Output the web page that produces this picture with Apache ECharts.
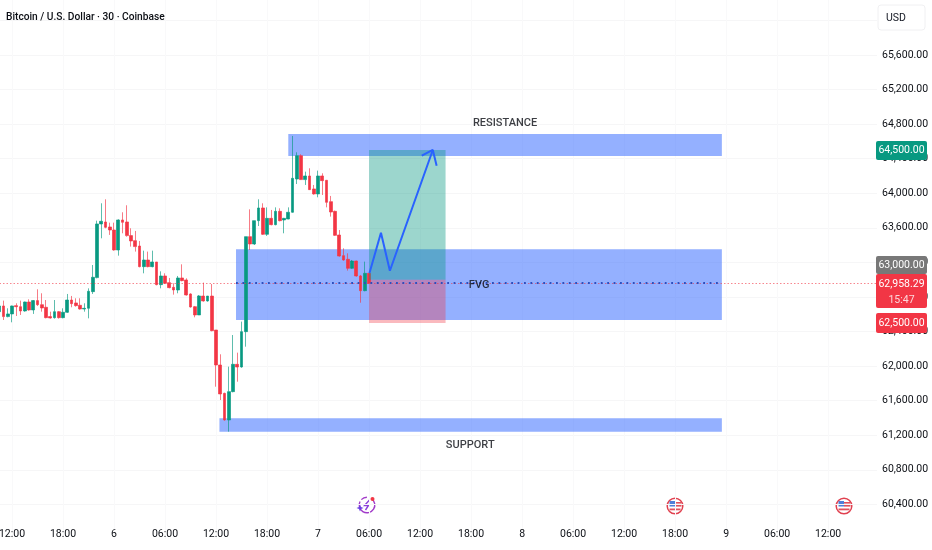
<!DOCTYPE html>
<html><head><meta charset="utf-8">
<style>html,body{margin:0;padding:0;background:#fff}#c{width:932px;height:550px}</style>
<script src="https://cdn.jsdelivr.net/npm/echarts@6/dist/echarts.min.js"></script>
</head><body><div id="c"></div>
<script>
const chartTitle = 'Bitcoin / U.S. Dollar · 30 · Coinbase';
const timeTicks = ['12:00','18:00','6','06:00','12:00','18:00','7','06:00','12:00','18:00','8','06:00','12:00','18:00','9','06:00','12:00'];
const priceTicks = [60400,60800,61200,61600,62000,62400,62800,63200,63600,64000,64400,64800,65200,65600];
const firstCandle = -3; // candles counted in half hours from the first 12:00 tick
const opens = [62630,62696,62573,62604,62700,62688,62638,62742,62650,62758,62711,62681,62573,62561,62630,62561,62623,62765,62731,62704,62661,62669,62862,63024,63645,63668,63610,63575,63344,63691,63668,63510,63452,63390,63151,63228,63151,63205,62943,63043,62966,62912,62881,63020,62997,62835,62688,62592,62811,62754,62811,62418,62013,61685,61377,61705,62021,61990,62399,63498,63413,63683,63830,63525,63710,63637,63791,63691,63702,63780,64165,64435,64158,64200,64050,63992,64200,64150,63903,63791,63517,63278,63236,63132,63216,63043,62873,63074];
const closes = [62696,62573,62604,62696,62688,62638,62742,62650,62758,62711,62673,62561,62557,62630,62561,62623,62765,62723,62700,62661,62669,62866,63028,63645,63676,63606,63575,63344,63691,63664,63510,63448,63383,63151,63228,63151,63205,62943,63043,62958,62908,62881,63020,62989,62823,62684,62592,62812,62754,62811,62410,62013,61678,61377,61705,62021,61990,62399,63498,63413,63683,63830,63525,63710,63637,63791,63683,63710,63780,64173,64435,64158,64200,64042,63992,64200,64146,63895,63783,63513,63274,63228,63132,63216,63043,62873,63074,62958];
const lows = [62611,62534,62565,62507,62580,62592,62630,62642,62604,62696,62630,62553,62550,62550,62550,62553,62615,62681,62688,62654,62630,62553,62835,63016,63479,63595,63518,63336,63278,63537,63498,63383,63325,63143,63074,63143,63143,62935,62900,62951,62900,62827,62843,62981,62816,62677,62565,62592,62746,62746,62403,61762,61608,61369,61242,61697,61820,61982,62225,63344,63402,63621,63517,63506,63629,63629,63675,63537,63699,63775,64107,64154,64096,64038,63984,63953,63980,63837,63730,63506,63267,63220,63105,63124,63035,62734,62866,62950];
const highs = [62727,62758,62669,62700,62727,62758,62746,62773,62765,62889,62843,62765,62630,62765,62638,62669,62835,62812,62785,62785,62727,62900,63170,63683,63884,63930,63660,63660,63699,63780,63861,63595,63564,63448,63336,63325,63336,63205,63097,63074,63020,62958,63043,63178,63016,62843,62696,62823,62966,62811,62950,62418,62137,61693,61994,62360,62156,62515,63498,63814,63683,63930,63884,63837,63807,63837,63826,63715,63837,64663,64474,64451,64250,64289,64096,64262,64231,64154,63969,63799,63575,63363,63305,63228,63220,63055,63209,63074];
const zones = [[65,167,64431,64686],[52.7,167,62534,63352],[48.8,167,61242,61397]];
const targetBox = [84,102,63000,64500];
const stopBox = [84,102,62500,63000];
const fvgMid = [[52.7,62962],[167,62962]];
const arrowPath = [[84.1,63078],[86.8,63544],[88.9,63104],[99,64501]];
const arrowHead = [[96.4,64435],[99,64501],[99.9,64319]];
const zoneLabels = [[116,64810,'RESISTANCE'],[109.9,62935,'FVG'],[107.8,61090,'SUPPORT']];
const lastPrice = 62958.29;
const FONT = 'Roboto';

const candles = opens.map((o,i)=>[firstCandle+i,o,closes[i],lows[i],highs[i]]);
const rectSeries = (data,color,z)=>({type:'custom',coordinateSystem:'cartesian2d',z,silent:true,
  encode:{x:[0,1],y:[2,3]},data,
  renderItem:(p,api)=>{const a=api.coord([api.value(0),api.value(3)]),b=api.coord([api.value(1),api.value(2)]);
    return {type:'rect',shape:{x:a[0],y:a[1],width:b[0]-a[0],height:b[1]-a[1]},style:{fill:color}};}});
const lineS=(data,z,style)=>({type:'line',data,z,silent:true,showSymbol:false,symbol:'none',lineStyle:style,animation:false});
const tag=(y,h,fill,lines)=>[
  {type:'rect',z:50,shape:{x:876,y,width:51,height:h,r:2},style:{fill}},
  ...lines.map((t,i)=>({type:'text',z:51,x:901.5,y:y+(i===0?(lines.length>1?10:h/2):26),
    style:{text:t,fill:i?'rgba(255,255,255,.8)':'#fff',font:'10.5px "'+FONT+'"',align:'center',verticalAlign:'middle'}}))];
const flag=(cx,cy)=>({type:'group',x:cx,y:cy,z:40,children:[
  {type:'circle',shape:{cx:0,cy:0,r:7.8},style:{fill:'#fff',stroke:'#e0404f',lineWidth:1.5}},
  {type:'rect',shape:{x:-5.5,y:-5,width:5.5,height:5.5},style:{fill:'#4f7fd8'}},
  {type:'rect',shape:{x:0,y:-4,width:6,height:1.6},style:{fill:'#e0505c'}},
  {type:'rect',shape:{x:0,y:-1,width:6.5,height:1.6},style:{fill:'#e0505c'}},
  {type:'rect',shape:{x:-5.5,y:2.5,width:11,height:1.8},style:{fill:'#e0505c'}}]});
const flash={type:'group',x:367,y:505,z:40,children:[
  {type:'arc',shape:{cx:0,cy:0,r:7.8,startAngle:-1.0,endAngle:3.6},style:{stroke:'#a23bc9',fill:'none',lineWidth:1.4}},
  {type:'arc',shape:{cx:0,cy:0,r:7.8,startAngle:3.9,endAngle:4.7},style:{stroke:'#a23bc9',fill:'none',lineWidth:1.4}},
  {type:'polyline',shape:{points:[[2.5,-5],[-2.5,0.5],[1.5,0.5],[-1.5,5]]},style:{stroke:'#8b3fd9',fill:'none',lineWidth:1.4}},
  {type:'circle',shape:{cx:5.5,cy:-6,r:2},style:{fill:'#f23645'}},
  {type:'polygon',shape:{points:[[-7,-0.5],[-6,2],[-3.5,3],[-6,4],[-7,6.5],[-8,4],[-10.5,3],[-8,2]]},style:{fill:'#6a3fe0'}}]};

const chart=echarts.init(document.getElementById('c'),null,{renderer:'canvas'});
chart.setOption({
  animation:false,backgroundColor:'#fff',
  title:{text:chartTitle,left:6,top:12,padding:0,textStyle:{fontFamily:FONT,fontSize:10.2,fontWeight:500,color:'#0b0e14'}},
  grid:{left:-39,top:0,width:916,height:539,containLabel:false,outerBoundsMode:'none'},
  xAxis:{type:'value',min:-12,max:203.5,interval:12,offset:-18,
    axisLine:{show:false},axisTick:{show:false},
    splitLine:{show:true,showMinLine:false,showMaxLine:false,lineStyle:{color:'#f9f9fa',width:1}},
    axisLabel:{margin:8,fontFamily:FONT,fontSize:10.5,color:'#0b0e14',showMinLabel:false,showMaxLabel:false,
      formatter:v=>{const k=v/12;return Number.isInteger(k)&&timeTicks[k]!==undefined?timeTicks[k]:'';}}},
  yAxis:{type:'value',position:'right',min:60000,max:66236,interval:400,scale:true,
    axisLine:{show:false},axisTick:{show:false},
    splitLine:{show:true,showMinLine:false,showMaxLine:false,lineStyle:{color:'#f6f6f7',width:1}},
    axisLabel:{margin:5,align:'left',fontFamily:FONT,fontSize:10.5,color:'#0b0e14',showMinLabel:false,showMaxLabel:false,
      formatter:v=>priceTicks.includes(v)?v.toLocaleString('en-US',{minimumFractionDigits:2}):''}},
  series:[
    rectSeries(zones,'rgba(41,98,255,0.5)',1),
    {type:'candlestick',z:3,silent:true,barWidth:3.2,data:candles,encode:{x:0,y:[1,2,3,4]},
      itemStyle:{color:'#089981',color0:'#f23645',borderColor:'rgba(8,153,129,.65)',borderColor0:'rgba(242,54,69,.65)',borderWidth:1},
      markLine:{silent:true,symbol:'none',label:{show:false},animation:false,
        lineStyle:{color:'rgba(242,54,69,.6)',type:[1.5,2],width:1},data:[{yAxis:lastPrice}]}},
    rectSeries([targetBox],'rgba(8,153,129,0.4)',4),
    rectSeries([stopBox],'rgba(242,54,69,0.35)',4),
    lineS(fvgMid,5,{color:'#2a4fc0',width:1.8,type:[1.8,4.6]}),
    lineS(arrowPath,6,{color:'#2962ff',width:2}),
    lineS(arrowHead,6,{color:'#2962ff',width:2}),
    {type:'scatter',z:7,silent:true,symbolSize:0,data:zoneLabels.map(d=>[d[0],d[1],d[2]]),
      label:{show:true,position:'inside',formatter:p=>p.data[2],fontFamily:FONT,fontSize:11,fontWeight:500,color:'#0b0e14'}}
  ],
  graphic:[
    {type:'rect',z:40,shape:{x:878,y:5,width:47,height:25,r:3},style:{fill:'#fff',stroke:'#f0f0f2',lineWidth:1}},
    {type:'text',z:41,x:886,y:18,style:{text:'USD',fill:'#131722',font:'10.5px "'+FONT+'"',verticalAlign:'middle'}},
    ...tag(141,19,'#089981',['64,500.00']),
    ...tag(256,18,'#787878',['63,000.00']),
    ...tag(274,34,'#f23645',['62,958.29','15:47']),
    ...tag(313,20,'#f23645',['62,500.00']),
    flash,flag(675,506),flag(844,506)
  ]
});
</script></body></html>
